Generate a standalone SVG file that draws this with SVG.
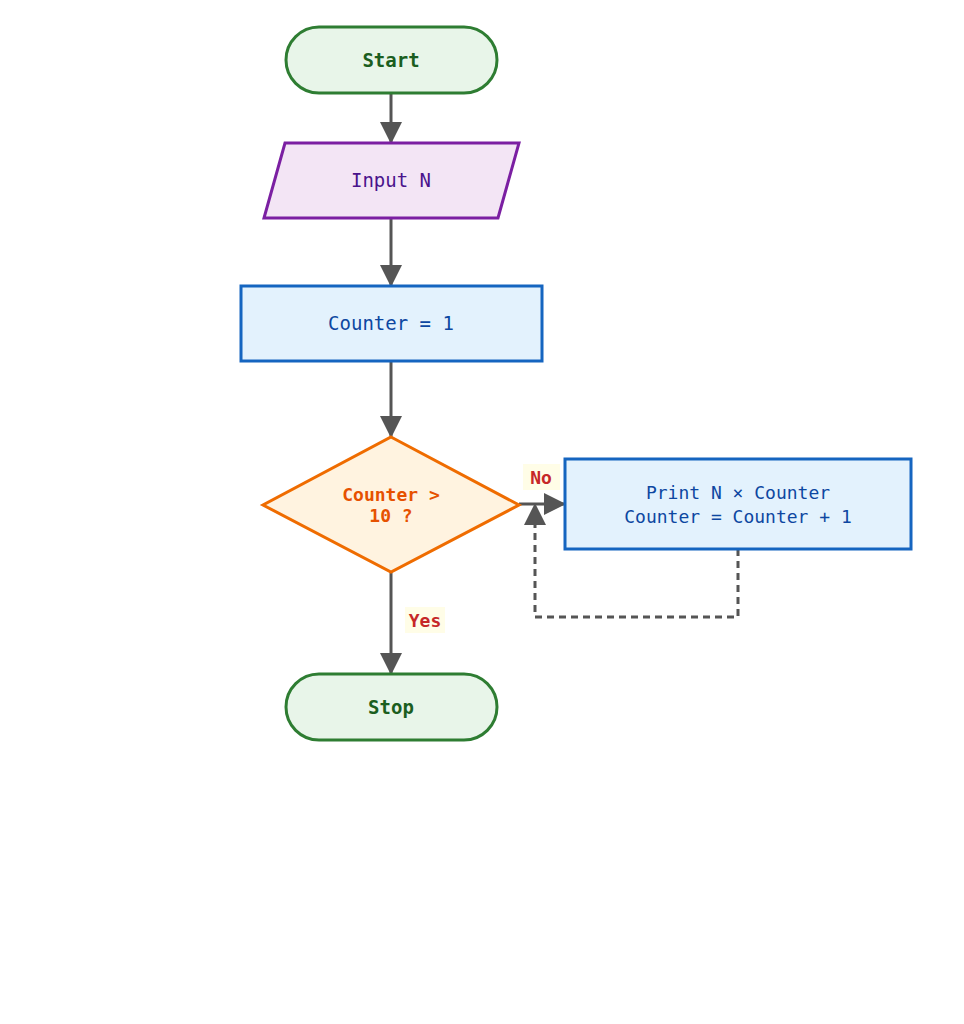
<svg xmlns="http://www.w3.org/2000/svg" width="964" height="1024" viewBox="0 0 964 1024">
<style>
text{font-family:"DejaVu Sans Mono","Liberation Mono",monospace;font-size:19px;text-anchor:middle;dominant-baseline:central}
.term{fill:#e8f5e9;stroke:#2e7d32;stroke-width:3}
.term-t{fill:#1b5e20;font-weight:bold}
.io{fill:#f3e5f5;stroke:#7b1fa2;stroke-width:3}
.io-t{fill:#4a148c}
.proc{fill:#e3f2fd;stroke:#1565c0;stroke-width:3}
.proc-t{fill:#0d47a1}
.sm{font-size:18px}
.dec{fill:#fff3e0;stroke:#ef6c00;stroke-width:3}
.dec-t{fill:#e65100;font-weight:bold;font-size:18px}
.edge{fill:none;stroke:#555;stroke-width:3}
.dash{stroke-dasharray:7,5}
.lbl-bg{fill:#fffde7}
.lbl{fill:#c62828;font-weight:bold;font-size:18px}
</style>
<defs>
<marker id="arr" markerUnits="userSpaceOnUse" markerWidth="22" markerHeight="22" refX="22" refY="11" orient="auto">
<path d="M0,0 L22,11 L0,22 z" fill="#555"/>
</marker>
</defs>
<g id="connectors">
<line class="edge" x1="391" y1="93" x2="391" y2="144" marker-end="url(#arr)"/>
<line class="edge" x1="391" y1="218" x2="391" y2="287" marker-end="url(#arr)"/>
<line class="edge" x1="391" y1="361" x2="391" y2="438" marker-end="url(#arr)"/>
<line class="edge" x1="391" y1="572" x2="391" y2="675" marker-end="url(#arr)"/>
<line class="edge" x1="519" y1="504" x2="566" y2="504" marker-end="url(#arr)"/>
<polyline class="edge dash" points="738,549 738,617 535,617 535,503" marker-end="url(#arr)"/>
<rect class="lbl-bg" x="523" y="464" width="37" height="26"/>
<text class="lbl" x="541" y="477">No</text>
<rect class="lbl-bg" x="405" y="607" width="40" height="26"/>
<text class="lbl" x="425" y="620">Yes</text>
</g>
<g id="start">
<rect class="term" x="286" y="27" width="211" height="66" rx="33"/>
<text class="term-t" x="391" y="60">Start</text>
</g>
<g id="input">
<polygon class="io" points="285,143 519,143 498,218 264,218"/>
<text class="io-t" x="391" y="180">Input N</text>
</g>
<g id="init">
<rect class="proc" x="241" y="286" width="301" height="75"/>
<text class="proc-t" x="391" y="323">Counter = 1</text>
</g>
<g id="decision">
<polygon class="dec" points="391,437 519,505 391,572 263,505"/>
<text class="dec-t" x="391" y="494">Counter &gt;</text>
<text class="dec-t" x="391" y="515">10 ?</text>
</g>
<g id="print">
<rect class="proc" x="565" y="459" width="346" height="90"/>
<text class="proc-t sm" x="738" y="492">Print N × Counter</text>
<text class="proc-t sm" x="738" y="516">Counter = Counter + 1</text>
</g>
<g id="stop">
<rect class="term" x="286" y="674" width="211" height="66" rx="33"/>
<text class="term-t" x="391" y="707">Stop</text>
</g>
</svg>
